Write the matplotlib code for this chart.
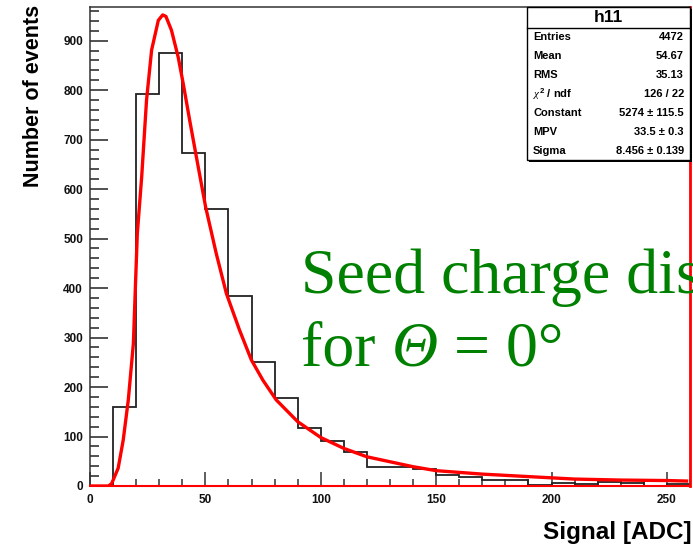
import numpy as np
import matplotlib
matplotlib.use("Agg")
import matplotlib.pyplot as plt
from matplotlib.patches import Rectangle
from matplotlib.lines import Line2D
from matplotlib.ticker import MultipleLocator

# ---------------- data ----------------
bin_edges = [0, 10, 20, 30, 40, 50, 60, 70, 80, 90, 100, 110, 120, 130, 140,
             150, 160, 170, 180, 190, 200, 210, 220, 230, 240, 250, 260]
bin_counts = [0, 160, 792, 875, 672, 559, 384, 251, 178, 118, 90, 68, 39, 39,
              34, 22, 18, 12, 12, 2, 7, 5, 8, 6, 1, 4]

fit_x = [0, 8, 9.4, 12.2, 14.4, 16.6, 18.8, 20.5, 22.4, 24.5, 26.7, 29.6, 31.5,
         32.9, 35.3, 38.2, 40.4, 43.2, 46.1, 50.1, 54.7, 59.1, 64.8, 69.9, 74.9,
         80.7, 90, 100, 110, 120, 130, 140, 150, 170, 190, 210, 230, 250, 258.5]
fit_y = [0, 0, 5, 36, 93, 174, 288, 510, 625, 780, 881, 941, 952,
         949, 921, 867, 813, 739, 665, 564, 470, 389, 315, 255, 214,
         174, 130, 98, 76, 59, 49, 39, 31, 24, 19, 14, 12, 11, 10]

stats_labels = ["Entries", "Mean", "RMS", r"$\chi^2$ / ndf", "Constant", "MPV", "Sigma"]
stats_values = ["4472", "54.67", "35.13", "126 / 22", "5274 \u00b1 115.5",
                "33.5 \u00b1 0.3", "8.456 \u00b1 0.139"]
hist_name = "h11"
x_label = "Signal [ADC]"
y_label = "Number of events"
note_line1 = "Seed charge dis"
note_line2_parts = ["for ", "\u0398", " = 0\u00b0"]

# ---------------- figure ----------------
plt.rcParams['mathtext.fontset'] = 'custom'
plt.rcParams['mathtext.rm'] = 'Liberation Sans:bold'
plt.rcParams['mathtext.it'] = 'Liberation Serif:italic'
plt.rcParams['mathtext.bf'] = 'Liberation Sans:bold'

W, H = 693, 545
fig = plt.figure(figsize=(W / 100, H / 100), dpi=100)
ax = fig.add_axes([90 / W, 1 - 486 / H, 600 / W, (486 - 7) / H])

ax.stairs(bin_counts, bin_edges, baseline=0, color='#222222', linewidth=1.3, zorder=2)
ax.plot(fit_x, fit_y, color='red', linewidth=2.4, zorder=3, solid_joinstyle='round')
ax.axhline(0, color='red', linewidth=2.0, zorder=4)

ax.set_xlim(0, 260)
ax.set_ylim(0, 968)

ax.xaxis.set_major_locator(MultipleLocator(50))
ax.xaxis.set_minor_locator(MultipleLocator(10))
ax.yaxis.set_major_locator(MultipleLocator(100))
ax.yaxis.set_minor_locator(MultipleLocator(20))
ax.tick_params(axis='x', which='major', direction='in', length=10, width=1.1,
               color='#333333', pad=6)
ax.tick_params(axis='x', which='minor', direction='in', length=5, width=1.1, color='#333333')
ax.tick_params(axis='y', which='major', direction='in', length=13, width=1.1,
               color='#222222', pad=5)
ax.tick_params(axis='y', which='minor', direction='in', length=6.5, width=1.1, color='#222222')
for lab in ax.get_xticklabels() + ax.get_yticklabels():
    lab.set_fontfamily('Liberation Sans')
    lab.set_fontweight('bold')
    lab.set_fontsize(8.5)
    lab.set_color('#111111')

for s in ['left', 'top']:
    ax.spines[s].set_color('#333333')
    ax.spines[s].set_linewidth(1.1)
ax.spines['bottom'].set_color('red')
ax.spines['bottom'].set_linewidth(1.5)
ax.spines['right'].set_color('red')
ax.spines['right'].set_linewidth(2.0)

fig.text(692 / W, 1 - 532 / H, x_label, ha='right', va='center',
         fontfamily='Liberation Sans', fontweight='bold', fontsize=17.5)
fig.text(34 / W, 1 - 5 / H, y_label, ha='center', va='top', rotation=90,
         fontfamily='Liberation Sans', fontweight='bold', fontsize=15.5)

# annotation text
green = '#008000'
fig.text(301 / W, 1 - 293 / H, note_line1, ha='left', va='baseline',
         fontfamily='Liberation Serif', fontsize=46, color=green)
renderer = fig.canvas.get_renderer()
x_px = 301.0
styles = ['normal', 'italic', 'normal']
for part, st in zip(note_line2_parts, styles):
    t = fig.text(x_px / W, 1 - 365 / H, part, ha='left', va='baseline',
                 fontfamily='Liberation Serif', fontstyle=st, fontsize=46, color=green)
    bb = t.get_window_extent(renderer=renderer)
    x_px += bb.width

# stats box
bx0, bx1, by0, by1 = 527, 690, 7, 160
fig.add_artist(Rectangle((bx0 / W + 2 / W, 1 - (by1 + 2) / H), (bx1 - bx0) / W,
                         (by1 - by0) / H, transform=fig.transFigure,
                         facecolor='black', edgecolor='none', zorder=9))
fig.add_artist(Rectangle((bx0 / W, 1 - by1 / H), (bx1 - bx0) / W, (by1 - by0) / H,
                         transform=fig.transFigure, facecolor='white',
                         edgecolor='black', linewidth=1.0, zorder=10))
fig.add_artist(Line2D([bx0 / W, bx1 / W], [1 - 28 / H, 1 - 28 / H],
                      transform=fig.transFigure, color='black', linewidth=1.0, zorder=11))
fig.text((bx0 + bx1) / 2 / W, 1 - 18 / H, hist_name, ha='center', va='center',
         fontfamily='Liberation Sans', fontweight='bold', fontsize=12.5, zorder=12)
row_y = [37, 56, 75, 94, 113, 132, 151]
for yy, lab, val in zip(row_y, stats_labels, stats_values):
    fig.text(533 / W, 1 - yy / H, lab, ha='left', va='center',
             fontfamily='Liberation Sans', fontweight='bold', fontsize=8, zorder=12)
    fig.text(684 / W, 1 - yy / H, val, ha='right', va='center',
             fontfamily='Liberation Sans', fontweight='bold', fontsize=8, zorder=12)

fig.savefig("out.png", dpi=100)
